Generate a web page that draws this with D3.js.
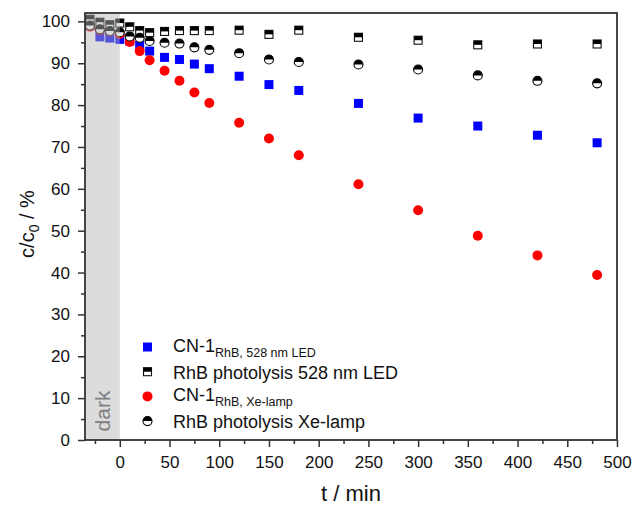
<!DOCTYPE html>
<html>
<head>
<meta charset="utf-8">
<script src="https://cdn.jsdelivr.net/npm/d3@7"></script>
<style>
  html, body { margin: 0; padding: 0; background: #fff; }
  svg { display: block; font-family: "Liberation Sans", Arial, sans-serif; }
</style>
</head>
<body>
<svg id="chart" width="634" height="505"></svg>
<script>
// Sampling times (min); negative times are the dark adsorption phase
const times = [-30, -20, -10, 0, 10, 20, 30, 45, 60, 75, 90, 120, 150, 180, 240, 300, 360, 420, 480];

// Relative concentration c/c0 (%)
const cnLed      = [99.0, 96.3, 96.0, 95.7, 95.3, 94.3, 92.9, 91.4, 90.9, 89.8, 88.7, 86.9, 84.9, 83.5, 80.4, 76.9, 75.0, 72.8, 71.0];
const photoLed   = [100.5, 99.8, 99.2, 99.6, 98.7, 97.8, 97.3, 97.6, 97.8, 97.8, 97.8, 97.9, 96.9, 97.9, 96.2, 95.5, 94.4, 94.6, 94.6];
const cnXe       = [98.7, 97.9, 97.6, 97.0, 95.1, 92.9, 90.7, 88.2, 85.8, 83.0, 80.5, 75.8, 72.0, 68.0, 61.1, 54.9, 48.8, 44.1, 39.4];
const photoXe    = [99.0, 98.1, 97.7, 97.4, 96.4, 96.1, 95.3, 94.9, 94.7, 93.8, 93.2, 92.4, 90.9, 90.3, 89.7, 88.5, 87.1, 85.8, 85.2];

const xTicks = [0, 50, 100, 150, 200, 250, 300, 350, 400, 450, 500];
const xMinorTicks = [-25, 25, 75, 125, 175, 225, 275, 325, 375, 425, 475];
const yTicks = [0, 10, 20, 30, 40, 50, 60, 70, 80, 90, 100];
const yMinorTicks = [5, 15, 25, 35, 45, 55, 65, 75, 85, 95];

const legendEntries = [
  { main: "CN-1", sub: "RhB, 528 nm LED", marker: "blueSquare" },
  { main: "RhB photolysis 528 nm LED", sub: "", marker: "halfSquare" },
  { main: "CN-1", sub: "RhB, Xe-lamp", marker: "redCircle" },
  { main: "RhB photolysis Xe-lamp", sub: "", marker: "halfCircle" }
];

const svg = d3.select("#chart");
const plotL = 85, plotR = 617, plotT = 13, plotB = 440;

const x = d3.scaleLinear().domain([-35, 500]).range([plotL, plotR]);
const y = d3.scaleLinear().domain([0, 102]).range([plotB, plotT]);

const axisColor = "#333";

// Marker painters
const SQ = 9, RAD = 5;
function blueSquare(g, cx, cy) {
  g.append("rect").attr("x", cx - SQ / 2).attr("y", cy - SQ / 2)
    .attr("width", SQ).attr("height", SQ).attr("fill", "#0000ff");
}
function halfSquare(g, cx, cy) {
  const s = SQ - 1;
  g.append("rect").attr("x", cx - s / 2).attr("y", cy - s / 2)
    .attr("width", s).attr("height", s).attr("fill", "#fff")
    .attr("stroke", "#111").attr("stroke-width", 1.1);
  g.append("rect").attr("x", cx - s / 2).attr("y", cy - s / 2)
    .attr("width", s).attr("height", s / 2).attr("fill", "#000");
}
function redCircle(g, cx, cy) {
  g.append("circle").attr("cx", cx).attr("cy", cy).attr("r", RAD).attr("fill", "#ff0000");
}
const topHalf = d3.arc().innerRadius(0).outerRadius(RAD - 0.5)
  .startAngle(-Math.PI / 2).endAngle(Math.PI / 2);
function halfCircle(g, cx, cy) {
  g.append("circle").attr("cx", cx).attr("cy", cy).attr("r", RAD - 0.5)
    .attr("fill", "#fff").attr("stroke", "#000").attr("stroke-width", 1.1);
  g.append("path").attr("d", topHalf()).attr("transform", `translate(${cx},${cy})`)
    .attr("fill", "#000");
}
const painters = { blueSquare, halfSquare, redCircle, halfCircle };

// Data series, drawn in stacking order
const series = [
  { values: cnLed, marker: "blueSquare" },
  { values: photoLed, marker: "halfSquare" },
  { values: cnXe, marker: "redCircle" },
  { values: photoXe, marker: "halfCircle" }
];
const plot = svg.append("g");
series.forEach(s => {
  const g = plot.append("g");
  times.forEach((t, i) => painters[s.marker](g, x(t), y(s.values[i])));
});

// Dark phase shading laid over the markers
svg.append("rect")
  .attr("x", x(-35)).attr("y", plotT)
  .attr("width", x(0) - x(-35)).attr("height", plotB - plotT)
  .attr("fill", "rgb(181,181,181)").attr("fill-opacity", 0.47);

svg.append("text")
  .attr("transform", `translate(109.5,411) rotate(-90)`)
  .attr("text-anchor", "middle")
  .attr("font-size", 21).attr("fill", "#808080")
  .text("dark");

// Axes
svg.append("g").attr("transform", `translate(0,${plotB})`)
  .call(d3.axisBottom(x).tickValues(xTicks).tickSize(7).tickPadding(9).tickFormat(d3.format("d")));
svg.append("g").attr("transform", `translate(0,${plotB})`)
  .call(d3.axisBottom(x).tickValues(xMinorTicks).tickSize(4).tickFormat(""));
svg.append("g").attr("transform", `translate(${plotL},0)`)
  .call(d3.axisLeft(y).tickValues(yTicks).tickSize(7).tickPadding(8).tickFormat(d3.format("d")));
svg.append("g").attr("transform", `translate(${plotL},0)`)
  .call(d3.axisLeft(y).tickValues(yMinorTicks).tickSize(4).tickFormat(""));

svg.selectAll(".domain").remove();
svg.selectAll(".tick line").attr("stroke", axisColor).attr("stroke-width", 1.5);
svg.selectAll(".tick text").attr("font-size", 17).attr("fill", "#111")
  .attr("font-family", "'Liberation Sans', Arial, sans-serif");

// Frame
svg.append("rect").attr("x", plotL).attr("y", plotT)
  .attr("width", plotR - plotL).attr("height", plotB - plotT)
  .attr("fill", "none").attr("stroke", axisColor).attr("stroke-width", 1.8);

// Axis titles
svg.append("text")
  .attr("x", 351).attr("y", 501)
  .attr("text-anchor", "middle").attr("font-size", 22).attr("fill", "#111")
  .text("t / min");

const yTitle = svg.append("text")
  .attr("transform", `translate(34,224) rotate(-90)`)
  .attr("text-anchor", "middle").attr("font-size", 20).attr("fill", "#111");
yTitle.append("tspan").text("c/c");
yTitle.append("tspan").attr("font-size", 14).attr("dy", 5).text("0");
yTitle.append("tspan").attr("dy", -5).text(" / %");

// Legend
const legend = svg.append("g");
legendEntries.forEach((e, i) => {
  const ly = 347 + i * 24.7;
  painters[e.marker](legend, 147.5, ly);
  const t = legend.append("text").attr("x", 173).attr("y", ly + (e.sub ? 4.5 : 7))
    .attr("font-size", 18).attr("fill", "#111");
  t.append("tspan").text(e.main);
  if (e.sub) t.append("tspan").attr("font-size", 12.5).attr("dy", 5).text(e.sub);
});
</script>
</body>
</html>
